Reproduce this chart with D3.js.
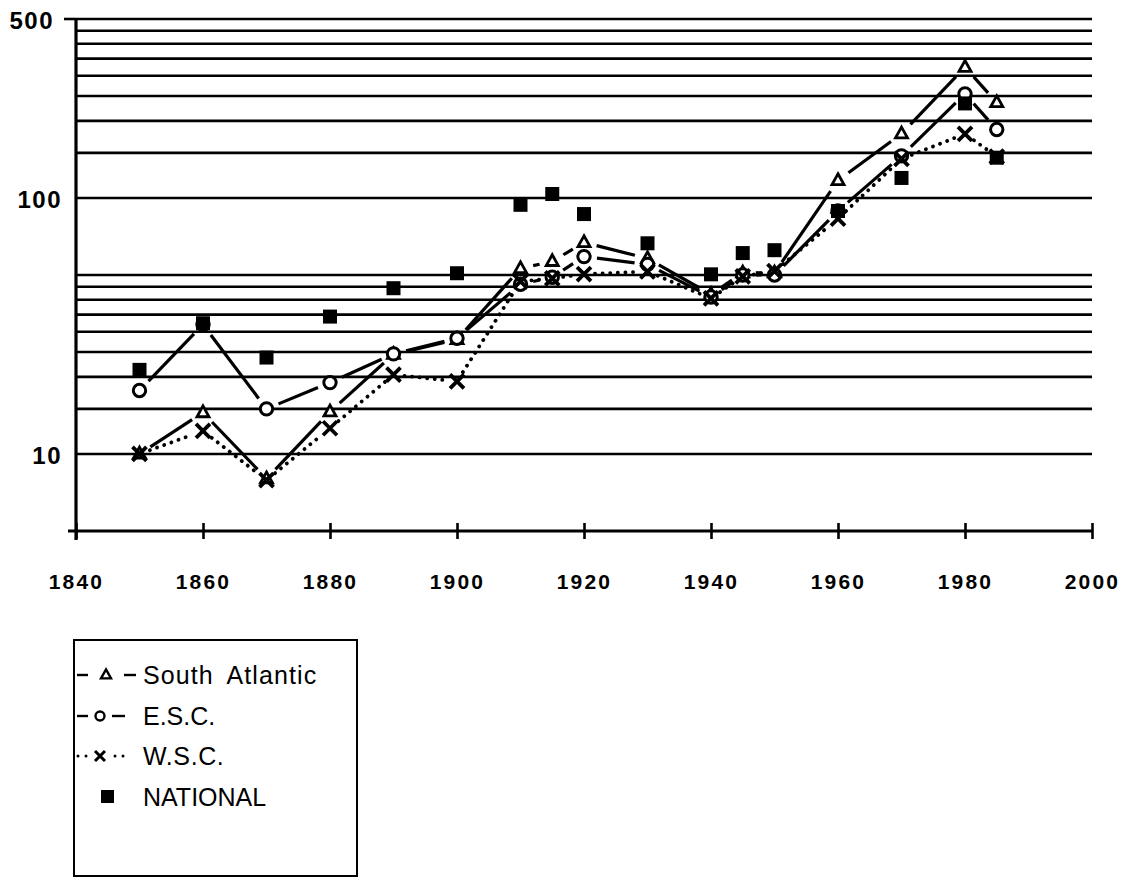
<!DOCTYPE html>
<html>
<head>
<meta charset="utf-8">
<script src="https://cdn.jsdelivr.net/npm/d3@7"></script>
<style>
  html, body { margin: 0; padding: 0; background: #fff; }
  svg { display: block; }
</style>
</head>
<body>
<svg id="chart" width="1123" height="880"></svg>
<script>
// ---- data ----
const years = [1850, 1860, 1870, 1880, 1890, 1900, 1910, 1915, 1920, 1930, 1940, 1945, 1950, 1960, 1970, 1980, 1985];
const southAtlantic = [10, 14.5, 8, 14.6, 24.5, 28, 53, 56.5, 67, 58, 42, 51, 51, 117, 178, 324, 236];
const esc = [17.7, 32, 15, 19, 24.6, 28.3, 46, 49, 59, 55, 41, 50, 50, 89, 146, 255, 185];
const wsc = [10, 12.3, 7.9, 12.6, 20.4, 19.2, 47.2, 48.5, 50.4, 51.6, 40.5, 49.4, 51.8, 83, 142, 178, 145];
const national = [21.3, 32.4, 23.8, 34.4, 44.4, 50.8, 94, 103.6, 86.5, 66.5, 50.3, 60.9, 62.5, 88.9, 119.7, 234, 143.6];

const xTicks = [1840, 1860, 1880, 1900, 1920, 1940, 1960, 1980, 2000];
const yTickLabels = [10, 100, 500];
const gridValues = [10, 15, 20, 25, 30, 35, 40, 45, 50, 100, 150, 200, 250, 300, 350, 400, 450, 500];
const legendLabels = ["South Atlantic", "E.S.C.", "W.S.C.", "NATIONAL"];

// ---- layout ----
const svg = d3.select("#chart");
const x = d3.scaleLinear().domain([1840, 2000]).range([76, 1092]);
const y = d3.scaleLog().domain([5, 500]).range([531, 19]);

const ink = "#000";
const fontFamily = "'Liberation Sans', Arial, Helvetica, sans-serif";

// gridlines
svg.append("g").selectAll("line").data(gridValues).join("line")
  .attr("x1", x(1840)).attr("x2", x(2000))
  .attr("y1", d => y(d)).attr("y2", d => y(d))
  .attr("stroke", ink).attr("stroke-width", 2.6);

// x axis
const xAxis = d3.axisBottom(x).tickValues(xTicks).tickSize(16).tickPadding(36).tickFormat(d3.format("d"));
const gx = svg.append("g").attr("transform", `translate(0,${y(5)})`).call(xAxis);
gx.select(".domain").remove();
gx.selectAll(".tick line").attr("y1", -8).attr("y2", 8).attr("stroke", ink).attr("stroke-width", 2.6);
gx.selectAll(".tick text").attr("font-family", fontFamily).attr("font-size", 21).attr("font-weight", "bold")
  .attr("letter-spacing", "2.2px").attr("fill", ink).attr("dy", "0.3em");
svg.append("line").attr("x1", x(1840) - 8).attr("x2", x(2000))
  .attr("y1", y(5)).attr("y2", y(5)).attr("stroke", ink).attr("stroke-width", 3);

// y axis
const yAxis = d3.axisLeft(y).tickValues(yTickLabels).tickSize(0).tickPadding(14).tickFormat(d3.format("d"));
const gy = svg.append("g").attr("transform", `translate(${x(1840)},0)`).call(yAxis);
gy.select(".domain").remove();
gy.selectAll(".tick text").attr("font-family", fontFamily).attr("font-size", 24).attr("font-weight", "bold")
  .attr("letter-spacing", "1.5px").attr("fill", ink).attr("dy", "0.4em");
gy.selectAll(".tick").filter(d => d === 500).select("text").attr("dx", -8);
svg.append("line").attr("x1", x(1840)).attr("x2", x(1840))
  .attr("y1", y(500)).attr("y2", y(5) + 9).attr("stroke", ink).attr("stroke-width", 3.2);
svg.append("line").attr("x1", x(1840) - 12).attr("x2", x(1840))
  .attr("y1", y(500)).attr("y2", y(500)).attr("stroke", ink).attr("stroke-width", 2.6);

// ---- series lines (segments with gaps around markers) ----
function segments(vals, gap) {
  const out = [];
  for (let i = 0; i < vals.length - 1; i++) {
    const x0 = x(years[i]), y0 = y(vals[i]), x1 = x(years[i + 1]), y1 = y(vals[i + 1]);
    const dx = x1 - x0, dy = y1 - y0, len = Math.hypot(dx, dy);
    if (len < 2 * gap + 3) continue;
    const ux = dx / len, uy = dy / len;
    out.push({ x1: x0 + ux * gap, y1: y0 + uy * gap, x2: x1 - ux * gap, y2: y1 - uy * gap });
  }
  return out;
}
function drawSegs(vals, cls, opts) {
  svg.append("g").attr("class", cls).selectAll("line").data(segments(vals, opts.gap)).join("line")
    .attr("x1", d => d.x1).attr("y1", d => d.y1).attr("x2", d => d.x2).attr("y2", d => d.y2)
    .attr("stroke", ink).attr("stroke-width", opts.w)
    .attr("stroke-linecap", opts.cap || "butt")
    .attr("stroke-dasharray", opts.dash || null);
}
drawSegs(southAtlantic, "sa-line", { gap: 13, w: 3.2 });
drawSegs(esc, "esc-line", { gap: 13, w: 3.2 });
drawSegs(wsc, "wsc-line", { gap: 11, w: 3.8, cap: "round", dash: "0.1,7.5" });

// ---- markers ----
function triPath(s) { const h = s * 0.9; return `M0,${-h * 0.62}L${s / 2},${h * 0.38}L${-s / 2},${h * 0.38}Z`; }

// South Atlantic triangles (drawn first, so other markers cover them)
svg.append("g").selectAll("path").data(years.map((yr, i) => [yr, southAtlantic[i]])).join("path")
  .attr("transform", d => `translate(${x(d[0])},${y(d[1])})`)
  .attr("d", triPath(12)).attr("fill", "#fff").attr("stroke", ink).attr("stroke-width", 2.8)
  .attr("stroke-linejoin", "miter");

// E.S.C. circles
svg.append("g").selectAll("circle").data(years.map((yr, i) => [yr, esc[i]])).join("circle")
  .attr("cx", d => x(d[0])).attr("cy", d => y(d[1])).attr("r", 6.2)
  .attr("fill", "#fff").attr("stroke", ink).attr("stroke-width", 3);

// W.S.C. crosses
const gX = svg.append("g").selectAll("g").data(years.map((yr, i) => [yr, wsc[i]])).join("g")
  .attr("transform", d => `translate(${x(d[0])},${y(d[1])})`);
gX.append("path").attr("d", "M-7,-7L7,7M7,-7L-7,7").attr("stroke", ink).attr("stroke-width", 3.8).attr("fill", "none");

// national squares (on top)
svg.append("g").selectAll("rect").data(years.map((yr, i) => [yr, national[i]])).join("rect")
  .attr("x", d => x(d[0]) - 7).attr("y", d => y(d[1]) - 7)
  .attr("width", 14).attr("height", 14).attr("fill", ink);

// ---- legend ----
const lg = svg.append("g");
lg.append("rect").attr("x", 74).attr("y", 640).attr("width", 283).attr("height", 236)
  .attr("fill", "none").attr("stroke", ink).attr("stroke-width", 2);
const rowY = [675, 716, 756, 797];
const textX = 143;
lg.selectAll("text").data(legendLabels).join("text")
  .attr("x", textX).attr("y", (d, i) => rowY[i]).attr("dy", "0.36em")
  .attr("font-family", fontFamily).attr("font-size", 25)
  .attr("letter-spacing", (d, i) => i === 0 ? "1.1px" : (i === 2 ? "0.6px" : "0px"))
  .attr("word-spacing", "6px")
  .attr("fill", ink).text(d => d);
// symbols
function dash(x1, x2, yy, w) { lg.append("line").attr("x1", x1).attr("x2", x2).attr("y1", yy).attr("y2", yy).attr("stroke", ink).attr("stroke-width", w || 2.4); }
dash(77, 88, rowY[0]); dash(124, 136, rowY[0]);
lg.append("path").attr("transform", `translate(106,${rowY[0]})`).attr("d", triPath(10))
  .attr("fill", "#fff").attr("stroke", ink).attr("stroke-width", 2.4);
dash(77, 88, rowY[1]); dash(112, 125, rowY[1]);
lg.append("circle").attr("cx", 100).attr("cy", rowY[1]).attr("r", 4.5).attr("fill", "#fff").attr("stroke", ink).attr("stroke-width", 2.4);
[78, 86, 115, 123].forEach(cx => lg.append("circle").attr("cx", cx).attr("cy", rowY[2]).attr("r", 1.5).attr("fill", ink));
lg.append("path").attr("transform", `translate(100,${rowY[2]})`).attr("d", "M-5,-5L5,5M5,-5L-5,5")
  .attr("stroke", ink).attr("stroke-width", 3).attr("fill", "none");
lg.append("rect").attr("x", 101).attr("y", rowY[3] - 7).attr("width", 13).attr("height", 13).attr("fill", ink);
</script>
</body>
</html>
